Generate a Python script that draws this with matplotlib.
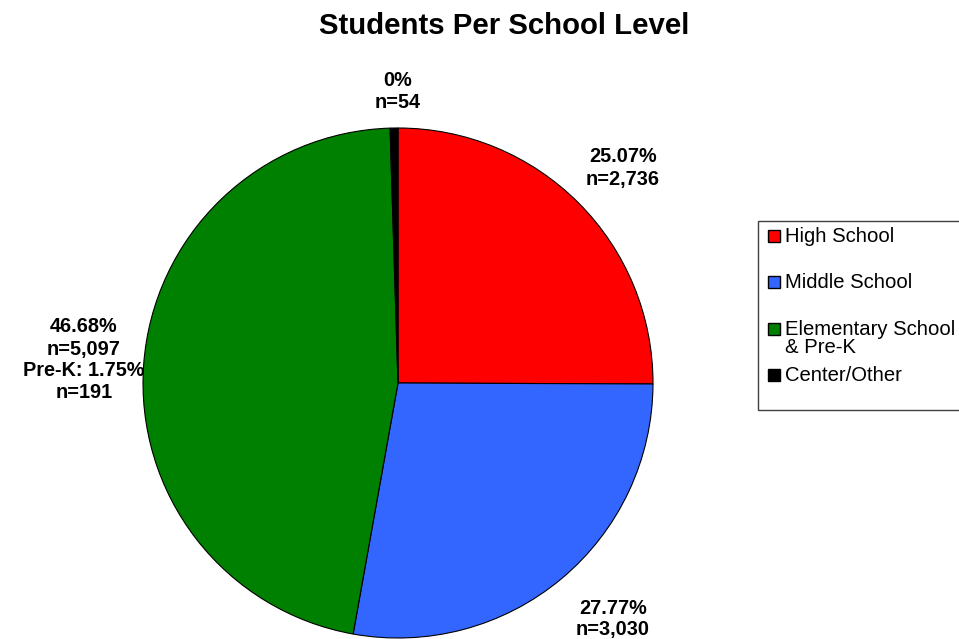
import matplotlib.pyplot as plt
from matplotlib.patches import Rectangle

plt.rcParams['font.family'] = ['Liberation Sans', 'DejaVu Sans']

# data
levels = ['High School', 'Middle School', 'Elementary School\n& Pre-K', 'Center/Other']
students = [2736, 3030, 5097, 54]
pct_labels = ['25.07%', '27.77%', '46.68%', '0%']
colors = ['#ff0000', '#3366ff', '#008000', '#000000']
prek_n = 191
prek_pct = '1.75%'

fig = plt.figure(figsize=(9.59, 6.39), dpi=100)
W, H = 959, 639

# pie axes: center (398, 383) px, radius 255 px
cx, cy, r = 398, 383, 255
ax = fig.add_axes([(cx - r) / W, (H - cy - r) / H, 2 * r / W, 2 * r / H])
ax.pie(students, colors=colors, startangle=90, counterclock=False,
       wedgeprops=dict(edgecolor='black', linewidth=0.8))
ax.set_xlim(-1, 1)
ax.set_ylim(-1, 1)
ax.set_aspect('equal')
ax.axis('off')

texts = ['%s\nn=%s' % (p, format(n, ',')) for p, n in zip(pct_labels, students)]
texts[2] += '\nPre-K: %s\nn=%d' % (prek_pct, prek_n)
# label positions in pixels
label_px = [(623, 168), (613, 619), (84, 360), (398, 91)]
for t, (px, py) in zip(texts, label_px):
    fig.text(px / W, 1 - py / H, t, ha='center', va='center', fontsize=14.3,
             fontweight='bold', linespacing=1.2)

fig.text(504 / W, 1 - 26 / H, 'Students Per School Level', ha='center', va='center',
         fontsize=21.2, fontweight='bold')

# legend box
fig.add_artist(Rectangle((758 / W, 1 - 410 / H), 210 / W, 189 / H, transform=fig.transFigure,
                         facecolor='white', edgecolor='#404040', linewidth=1))
entry_y = [236, 282, 329, 375]
for lab, c, ey in zip(levels, colors, entry_y):
    fig.add_artist(Rectangle((768 / W, 1 - (ey + 6) / H), 12 / W, 12 / H, transform=fig.transFigure,
                             facecolor=c, edgecolor='black', linewidth=1))
    fig.text(785 / W, 1 - (ey - 9) / H, lab, ha='left', va='top', fontsize=14.6,
             linespacing=0.95)

fig.savefig('out.png', dpi=100)
